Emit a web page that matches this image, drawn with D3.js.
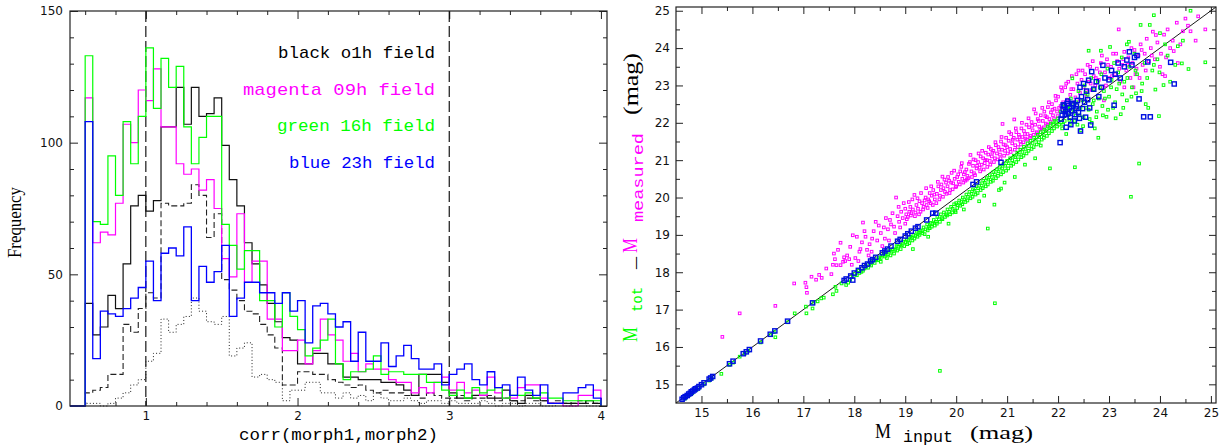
<!DOCTYPE html>
<html><head><meta charset="utf-8">
<script src="https://cdn.jsdelivr.net/npm/d3@7"></script>
<style>body{margin:0;background:#fff}svg{display:block}text{white-space:pre}</style>
</head><body>
<svg id="c" width="1221" height="448"></svg>
<script>
// ---------- LEFT PANEL DATA (histograms, bin width 0.05) ----------
const binLeft = [0.60,0.65,0.70,0.75,0.80,0.85,0.90,0.95,1.00,1.05,1.10,1.15,1.20,1.25,1.30,1.35,1.40,1.45,1.50,1.55,
1.60,1.65,1.70,1.75,1.80,1.85,1.90,1.95,2.00,2.05,2.10,2.15,2.20,2.25,2.30,2.35,2.40,2.45,2.50,2.55,
2.60,2.65,2.70,2.75,2.80,2.85,2.90,2.95,3.00,3.05,3.10,3.15,3.20,3.25,3.30,3.35,3.40,3.45,3.50,3.55,
3.60,3.65,3.70,3.75,3.80,3.85,3.90,3.95];
const binWidth = 0.05;
const blackO1h = [39,27,30,42,37,54,76,80,74,78, 106,106,121,107,121,110,111,117,99,86,
76,62,54,46,39,32,26,25,16,16, 20,20,16,16,11,11,10,10,10,9, 9,8,6,4,12,12,12,9,5,3,
3,4,4,3,3,6,2,1,4,3, 2,1,1,1,1,1,2,1];
const magenta09h = [117,62,66,65,77,107,100,120,116,128, 106,106,92,88,90,82,86,75,56,49,
73,47,55,55,33,33,21,21,25,16, 21,33,27,25,17,20,13,16,14,14, 10,9,9,5,7,5,9,11,6,9,
5,6,4,11,5,3,3,7,8,8, 3,1,1,0,0,4,4,6];
const green16h = [133,70,69,95,80,108,92,110,136,113, 132,121,129,106,92,102,110,110,69,61,
52,59,59,40,40,30,43,34,29,19, 22,25,33,16,10,13,13,14,19,12, 13,13,12,12,12,9,9,6,4,6,
3,7,5,6,7,3,4,4,5,3, 5,3,3,2,2,2,2,2];
const blue23h = [108,18,36,35,34,37,41,45,55,40, 58,60,57,68,40,53,47,51,61,34,
41,47,47,43,43,39,43,36,40,24, 38,39,35,30,32,17,28,17,17,24, 15,19,23,18,14,14,16,8,12,14,
16,10,8,13,7,8,4,11,6,4, 8,1,1,5,5,7,8,3];
const blackDashed = [5,6,7,12,12,31,28,37,43,41, 77,76,76,77,84,80,64,73,48,44,
40,36,35,31,27,22,8,8,13,13, 12,12,10,9,8,7,8,6,5,6, 5,5,4,4,3,5,4,3,3,4,
2,3,3,4,2,3,2,2,3,2, 2,1,2,1,1,2,1,1];
const blackDotted = [1,1,0,1,3,5,8,10,17,20, 33,28,31,34,41,36,32,31,34,19,
22,24,11,12,10,9,2,6,6,9, 9,5,5,3,5,3,4,2,5,3, 2,2,3,2,1,2,2,1,2,1,
1,1,2,1,0,1,1,0,1,1, 0,0,1,0,0,1,0,0];
const leftXMajor = [1,2,3,4];
const leftXMinor = [0.6,0.8,1.2,1.4,1.6,1.8,2.2,2.4,2.6,2.8,3.2,3.4,3.6,3.8];
const leftYMajor = [0,50,100,150];
const leftYMinor = [10,20,30,40,60,70,80,90,110,120,130,140];
const cutLines = [1,3];
const legendLines = ["black o1h field","magenta 09h field","green 16h field","blue 23h field"];

// ---------- RIGHT PANEL DATA (magnitudes) ----------
const rightMajor = [15,16,17,18,19,20,21,22,23,24,25];
const rightMinor = [15.5,16.5,17.5,18.5,19.5,20.5,21.5,22.5,23.5,24.5];
const measuredPts = [[15.41,16.27],[15.75,16.90],[16.45,17.10],[16.82,17.70],[17.04,17.72],[17.07,17.45],[17.06,17.60],[17.16,17.88],[17.25,17.80],[17.31,17.93],[17.36,17.85],[17.60,18.50],[17.62,18.35],[17.65,18.19],[17.58,18.20],[17.73,18.79],[17.73,18.19],[17.78,18.28],[17.80,18.40],[17.82,18.30],[17.86,18.45],[17.90,18.35],[17.97,18.99],[17.95,18.20],[18.02,18.38],[18.10,18.55],[18.17,19.33],[18.12,18.62],[18.15,18.80],[18.22,18.95],[18.25,18.60],[18.30,18.75],[18.34,18.55],[18.38,19.10],[18.45,18.85],[18.48,19.25],[18.52,19.05],[18.58,19.20],[18.60,18.90],[18.66,19.15],[18.70,19.40],[18.72,19.28],[18.78,19.22],[18.82,20.00],[18.85,19.50],[18.88,19.35],[18.92,19.62],[18.95,19.45],[19.00,19.70],[19.02,19.55],[19.05,19.48],[19.08,19.62],[19.10,19.75],[19.12,19.58],[19.15,19.68],[19.18,20.07],[19.20,19.60],[19.22,19.80],[19.25,19.70],[19.28,19.90],[19.30,19.62],[19.33,19.85],[19.36,19.75],[19.40,20.00],[19.42,19.80],[19.45,19.95],[19.48,20.12],[19.50,19.85],[19.52,20.05],[19.55,20.20],[19.58,19.95],[19.62,20.10],[19.65,20.30],[19.68,20.05],[19.70,20.20],[19.73,20.56],[19.75,20.25],[19.78,20.15],[19.80,20.40],[19.83,20.30],[19.86,20.45],[19.88,20.20],[19.91,20.66],[19.94,20.38],[19.97,20.50],[20.00,20.30],[20.02,20.55],[20.05,20.42],[20.08,20.70],[20.10,20.82],[20.12,20.50],[20.15,20.62],[20.18,20.45],[20.20,20.75],[20.22,20.58],[20.25,20.90],[20.28,21.14],[20.30,20.70],[20.33,20.85],[20.35,20.65],[20.38,21.00],[20.40,20.78],[20.43,20.95],[20.46,20.80],[20.48,21.10],[20.50,20.88],[20.53,21.05],[20.56,20.92],[20.58,21.20],[20.60,21.00],[20.63,21.15],[20.66,20.98],[20.68,21.30],[20.70,21.10],[20.73,21.25],[20.76,21.05],[20.78,21.40],[20.80,21.18],[20.83,21.35],[20.86,21.15],[20.88,21.50],[20.91,21.97],[20.90,21.28],[20.93,21.42],[20.96,21.25],[20.98,21.60],[21.00,21.35],[21.03,21.52],[21.06,21.30],[21.08,21.70],[21.10,21.45],[21.14,22.09],[21.13,21.60],[21.16,21.40],[21.18,21.75],[21.20,21.55],[21.23,21.68],[21.26,21.50],[21.28,21.85],[21.30,21.62],[21.33,21.78],[21.36,21.58],[21.38,21.95],[21.40,21.70],[21.43,21.88],[21.46,21.65],[21.48,22.02],[21.50,21.80],[21.53,22.36],[21.55,21.95],[21.58,21.75],[21.60,22.10],[21.63,21.90],[21.66,22.20],[21.68,21.85],[21.70,22.05],[21.73,22.30],[21.76,21.98],[21.78,22.15],[21.80,22.42],[21.83,22.10],[21.86,22.28],[21.88,22.50],[21.90,22.20],[21.93,22.38],[21.96,22.60],[21.98,22.30],
[22.00,22.70],[22.05,22.45],[22.08,22.85],[22.10,22.55],[22.14,22.95],[22.18,22.62],[22.20,23.10],[22.24,22.75],[22.27,23.25],[22.30,22.90],[22.34,22.68],[22.38,23.05],[22.40,23.40],[22.43,22.80],[22.46,23.15],[22.50,22.95],[22.53,23.30],[22.56,22.70],[22.60,23.10],[22.63,23.50],[22.66,22.88],[22.70,23.25],[22.73,23.00],[22.76,23.45],[22.80,23.15],[22.84,23.60],[22.88,22.95],[22.92,23.35],[22.96,23.70],[23.00,23.20],[23.04,23.50],[23.08,23.85],[23.12,23.30],[23.16,23.65],[23.19,24.50],[23.22,23.10],[23.26,23.55],[23.30,23.90],[23.34,23.40],[23.38,23.75],[23.42,23.20],[23.46,23.60],[23.50,23.95],[23.54,23.45],[23.58,23.80],[23.62,24.10],[23.66,23.55],[23.70,23.85],[23.74,24.25],[23.78,23.65],[23.82,24.00],[23.86,24.44],[23.90,23.70],[23.95,24.15],[24.00,23.50],[24.08,24.36],[24.12,23.75],[24.20,24.00],[24.27,23.92],[24.33,24.68],[24.40,24.10],[24.45,24.45],[24.50,24.79],[24.60,24.45],[24.70,24.20],[24.89,24.50],[23.30,22.95],[22.90,22.60],[23.60,23.20],[24.05,23.30],[24.35,23.60]];
const measuredBand = [[17.45,18.10],[17.55,17.95],[17.68,18.60],[17.92,18.68],[18.05,18.95],[18.08,18.30],[18.20,19.10],[18.28,18.45],[18.35,18.90],[18.42,19.35],[18.55,18.70],[18.62,19.45],[18.68,18.85],[18.75,19.58],[18.80,19.05],[18.87,19.75],[18.90,19.20],[18.97,19.85],[19.00,19.30],
[19.03,19.42],[19.07,19.88],[19.11,19.52],[19.14,19.95],[19.19,19.50],[19.24,19.98],[19.27,19.55],[19.31,20.12],[19.35,19.68],[19.38,19.92],[19.41,20.25],[19.44,19.72],[19.47,19.90],[19.51,20.30],[19.54,19.80],[19.57,20.08],[19.61,19.85],[19.64,20.42],[19.67,19.95],[19.71,20.35],[19.74,20.02],[19.77,20.48],[19.81,20.10],[19.84,20.55],[19.87,20.12],[19.90,20.40],[19.93,20.22],[19.96,20.72],[19.99,20.28],[20.04,20.62],[20.07,20.35],[20.11,20.92],[20.14,20.40],[20.17,20.68],[20.21,20.48],[20.24,20.52],[20.27,20.95],[20.31,20.55],[20.34,21.02],[20.37,20.60],[20.41,20.85],[20.44,21.18],[20.47,20.70],[20.51,21.25],[20.54,20.75],[20.57,21.00],[20.61,20.82],[20.64,21.35],[20.67,20.88],[20.71,21.20],[20.74,20.95],[20.77,21.48],[20.81,21.02],[20.84,21.28],[20.87,21.05],[20.89,21.62],[20.94,21.12],[20.97,21.40],[21.01,21.18],[21.04,21.75],[21.07,21.22],[21.11,21.55],[21.15,21.28],[21.17,21.85],[21.21,21.35],[21.24,21.62],[21.27,21.42],[21.29,22.00],[21.32,21.48],[21.35,21.70],[21.39,21.55],[21.42,22.12],[21.45,21.60],[21.49,21.92],[21.52,21.68],[21.56,22.25],[21.59,21.72],[21.62,22.05],[21.65,21.82],[21.69,22.40],[21.72,21.88],[21.75,22.18],[21.79,21.95],[21.82,22.55],[21.85,22.02],[21.89,22.35],[21.92,22.10],[21.95,22.72],[21.99,22.18],
[22.02,22.40],[22.06,22.95],[22.12,22.38],[22.16,23.05],[22.22,22.50],[22.26,22.90],[22.32,22.55],[22.36,23.30],[22.42,22.62],[22.48,23.40],[22.55,22.85],[22.58,23.55],[22.64,23.05],[22.68,23.65],[22.74,23.20],[22.82,23.35],[22.86,23.80],[22.94,23.00],[22.98,23.55],[23.06,23.25],[23.14,23.85],[23.20,23.45],[23.28,23.70],[23.36,23.55],[23.44,24.00],[23.52,23.30],[23.64,23.95],[23.72,23.40],[23.84,23.80],[23.92,24.35],[24.02,23.85],[24.15,24.50],[24.25,24.20],[24.55,24.60],[24.75,24.85],[24.10,23.25],[23.48,22.95]];
const totPts = [[14.68,14.62],[14.75,14.70],[14.82,14.76],[14.90,14.85],[14.95,14.90],[15.05,15.00],[15.15,15.10],[15.20,15.15],[15.39,15.28],[15.55,15.52],[15.62,15.58],[15.75,15.74],[15.85,15.82],[15.92,15.90],[16.16,16.12],[16.35,16.32],[16.45,16.26],[16.42,16.40],[16.70,16.66],[16.83,16.90],[17.05,17.08],[17.06,16.90],[17.18,17.03],[17.20,17.18],[17.28,17.22],[17.35,17.30],[17.40,17.32],[17.58,17.41],[17.63,17.61],[17.65,17.50],[17.75,17.70],[17.84,17.66],[17.88,17.72],[17.92,17.80],[17.97,17.88],[18.00,17.95],[18.05,17.92],[18.08,18.05],[18.10,17.98],[18.14,18.01],[18.17,18.04],[18.20,18.10],[18.23,18.15],[18.27,18.12],[18.30,18.22],[18.33,18.18],[18.36,18.30],[18.40,18.25],[18.43,18.35],[18.46,18.32],[18.49,18.40],[18.52,18.38],[18.56,18.45],[18.60,18.42],[18.63,18.52],[18.66,18.48],[18.70,18.58],[18.73,18.55],[18.76,18.62],[18.80,18.60],[18.83,18.70],[18.86,18.68],[18.90,18.75],[18.93,18.72],[18.96,18.82],[19.00,18.80],[19.03,18.88],[19.06,18.86],[19.10,18.95],[19.13,18.92],[19.16,19.00],[19.20,18.98],[19.23,19.08],[19.26,19.05],[19.30,19.12],[19.33,19.10],[19.36,19.20],[19.40,19.15],[19.43,19.28],[19.46,19.22],[19.50,19.32],[19.53,19.30],[19.56,19.40],[19.60,19.35],[19.63,19.48],[19.66,19.42],[19.70,19.55],[19.73,19.42],[19.76,19.60],[19.80,19.55],[19.83,19.68],[19.86,19.62],[19.90,19.75],[19.93,19.70],[19.96,19.82],[19.99,19.61],[20.00,19.85],[20.03,19.80],[20.06,19.92],[20.10,19.88],[20.13,20.00],[20.16,19.95],[20.20,20.08],[20.23,20.02],[20.26,20.15],[20.30,20.10],[20.33,20.22],[20.36,20.18],[20.40,20.30],[20.43,20.25],[20.46,20.38],[20.50,20.32],[20.53,20.45],[20.56,20.40],[20.60,20.52],[20.62,19.17],[20.63,20.48],[20.66,20.60],[20.70,20.55],[20.73,20.68],[20.75,19.81],[20.76,20.62],[20.76,17.17],[20.80,20.75],[20.84,20.20],[20.83,20.70],[20.86,20.82],[20.88,20.24],[20.90,20.78],[20.93,20.90],[20.96,20.85],[21.00,20.98],[21.03,20.92],[21.06,21.05],[21.10,21.00],[21.13,21.12],[21.16,21.08],[21.20,21.20],[21.23,21.15],[21.26,21.28],[21.30,21.22],[21.33,21.36],[21.36,21.30],[21.40,21.45],[21.43,21.38],[21.46,21.52],[21.50,21.46],[21.53,21.60],[21.56,21.55],[21.60,21.68],[21.63,21.62],[21.66,21.39],[21.66,21.75],[21.70,21.70],[21.73,21.82],[21.76,21.78],[21.80,21.90],[21.84,20.78],[21.83,21.86],[21.86,21.98],[21.90,21.95],[21.93,22.05],[21.96,22.02],[22.00,22.12],[19.68,15.36],
[22.05,22.30],[22.08,21.85],[22.10,22.50],[22.13,22.05],[22.16,21.70],[22.18,22.40],[22.20,22.20],[22.23,21.95],[22.25,22.65],[22.28,23.19],[22.30,22.35],[22.33,20.81],[22.33,22.05],[22.36,22.55],[22.40,22.85],[22.42,22.20],[22.45,21.80],[22.48,22.60],[22.49,21.91],[22.52,23.00],[22.55,22.40],[22.58,22.75],[22.60,23.93],[22.62,22.10],[22.65,23.20],[22.68,22.50],[22.70,22.90],[22.72,21.85],[22.75,22.15],[22.78,23.10],[22.79,21.60],[22.80,22.65],[22.84,23.93],[22.85,23.30],[22.87,22.45],[22.90,22.85],[22.95,22.16],[22.97,23.45],[23.00,22.70],[23.02,24.03],[23.05,23.15],[23.08,22.40],[23.10,23.60],[23.13,22.12],[23.15,22.90],[23.18,23.35],[23.23,22.23],[23.25,23.75],[23.26,22.76],[23.30,23.10],[23.35,22.60],[23.39,24.17],[23.40,23.50],[23.43,20.02],[23.45,22.95],[23.50,23.85],[23.53,22.79],[23.55,23.30],[23.59,20.91],[23.62,24.62],[23.65,23.05],[23.70,23.60],[23.72,22.50],[23.77,22.40],[23.80,24.62],[23.85,23.40],[23.88,24.88],[23.91,22.89],[23.95,23.70],[23.98,22.18],[23.99,23.35],[24.07,23.01],[24.10,24.10],[24.20,23.10],[24.30,23.55],[24.43,23.59],[24.45,24.20],[24.56,23.44],[24.60,25.00],[24.89,23.62],[24.00,24.40],[23.35,24.10]];
const totBand = [[18.52,18.28],[18.58,18.50],[18.64,18.38],[18.71,18.45],[18.78,18.50],[18.84,18.58],[18.91,18.62],[18.98,18.70],[19.04,18.75],[19.08,18.78],[19.14,18.85],[19.18,18.90],[19.24,18.95],[19.28,19.00],[19.34,19.05],[19.38,19.02],[19.44,19.12],[19.48,19.18],[19.52,19.22],[19.58,19.25],[19.62,19.30],[19.68,19.35],[19.72,19.45],[19.78,19.48],[19.82,19.52],[19.88,19.55],[19.92,19.60],[19.98,19.65],[20.02,19.72],[20.08,19.78],[20.12,19.82],[20.18,19.88],[20.22,19.92],[20.28,19.98],[20.32,20.02],[20.38,20.08],[20.42,20.12],[20.48,20.20],[20.52,20.25],[20.58,20.30],[20.62,20.35],[20.68,20.42],[20.72,20.45],[20.78,20.52],[20.82,20.58],[20.88,20.62],[20.92,20.68],[20.98,20.72],[21.02,20.78],[21.08,20.85],[21.12,20.90],[21.18,20.95],[21.22,21.02],[21.28,21.08],[21.32,21.12],[21.38,21.18],[21.42,21.25],[21.48,21.30],[21.52,21.35],[21.58,21.42],[21.62,21.48],[21.68,21.55],[21.72,21.60],[21.78,21.65],[21.82,21.72],[21.88,21.78],[21.92,21.85],[21.98,21.90],[22.02,21.95],[22.06,22.02],
[19.45,18.95],[19.85,19.30],[20.15,19.68],[20.55,20.05],[20.95,20.40],[21.35,20.88],[21.55,21.05],[20.45,19.90],[21.15,20.55],[19.15,18.62],
[22.10,21.95],[22.15,22.30],[22.22,22.08],[22.32,22.50],[22.38,21.95],[22.44,22.40],[22.50,22.15],[22.54,22.80],[22.60,22.35],[22.66,22.00],[22.70,22.60],[22.76,22.30],[22.82,22.95],[22.88,22.20],[22.92,22.65],[22.98,22.35],[23.04,22.95],[23.12,22.55],[23.20,23.05],[23.28,22.40],[23.36,23.20],[23.44,22.70],[23.52,23.40],[23.64,22.85],[23.75,23.20],[23.88,23.55],[24.15,23.80],[24.35,24.05],[22.25,22.40],[22.35,22.20]];
const bluePts = [[14.62,14.60],[14.65,14.64],[14.68,14.67],[14.72,14.70],[14.75,14.74],[14.78,14.76],[14.80,14.80],[14.83,14.82],[14.86,14.85],[14.88,14.88],[14.92,14.90],[14.95,14.94],[15.00,14.99],[15.05,15.04],[15.15,15.14],[15.18,15.17],[15.22,15.21],[15.55,15.55],[15.62,15.62],[15.82,15.82],[15.88,15.87],[15.94,15.93],[16.16,16.16],[16.35,16.34],[16.44,16.43],[16.69,16.69],[17.18,17.18],[17.80,17.78],[17.84,17.82],[17.93,17.90],[17.97,17.79],[18.00,17.98],[18.08,18.05],[18.15,18.12],[18.20,18.18],[18.26,18.22],[18.32,18.30],[18.36,18.34],[18.42,18.40],[18.55,18.52],[18.60,18.57],[18.65,18.62],[18.72,18.70],[18.85,18.83],[18.90,18.88],[19.00,18.97],[19.05,19.03],[19.12,19.10],[19.20,19.18],[19.25,19.22],[19.42,19.40],[19.54,19.58],[19.60,19.58],[20.33,20.35],[20.40,20.42],[20.88,20.94],
[22.04,21.47],[22.08,22.20],[22.10,22.35],[22.12,22.45],[22.15,22.30],[22.18,22.52],[22.20,22.25],[22.22,22.40],[22.25,21.95],[22.27,22.32],[22.30,22.48],[22.33,22.22],[22.35,22.38],[22.38,22.60],[22.40,22.28],[22.43,22.95],[22.46,22.70],[22.50,23.05],[22.52,22.55],[22.56,22.85],[22.60,23.14],[22.62,22.40],[22.64,21.94],[22.66,23.37],[22.70,22.90],[22.75,23.10],[22.80,22.70],[22.85,22.95],[22.88,23.54],[22.92,23.20],[23.00,23.15],[23.05,23.40],[23.10,22.47],[23.12,23.30],[23.18,23.60],[23.22,23.20],[23.30,23.50],[23.35,23.68],[23.40,23.90],[23.45,23.55],[23.50,23.75],[23.55,23.80],[23.59,22.64],[23.68,22.16],[23.76,23.63],[23.81,22.16],[24.21,23.62],[24.28,23.04],
[22.06,22.10],[22.10,22.48],[22.14,22.22],[22.19,22.58],[22.24,22.15],[22.28,22.52],[22.32,22.05],[22.36,22.45],[22.42,22.12],[22.48,22.38],[22.54,22.15],[22.58,22.62],[22.16,21.88],[22.44,21.78]];

// ---------- DRAWING ----------
const svg = d3.select("#c");
const MONO = "'Liberation Mono', monospace", SERIF = "'Liberation Serif', serif", SANS = "'DejaVu Sans', sans-serif";
const COL = {black:"#000", magenta:"#ff00ff", green:"#00ff00", blue:"#0000ff"};

function ticks(g, scale, orient, vals, size, labels, pad){
  const ax = orient(scale).tickValues(vals).tickSize(-size).tickPadding(pad);
  ax.tickFormat(labels ? d3.format("d") : "");
  const a = g.append("g").call(ax);
  a.select(".domain").remove();
  a.selectAll("line").attr("stroke","#222").attr("stroke-width",1);
  a.selectAll("text").attr("font-family",SANS).attr("font-size",12).attr("fill","#111");
  return a;
}

// Left panel
const L = {x0:70, x1:607, y0:11, y1:406};
const xL = d3.scaleLinear().domain([0.5, 4.04]).range([L.x0, L.x1]);
const yL = d3.scaleLinear().domain([0, 150]).range([L.y1, L.y0]);
const gl = svg.append("g");
ticks(gl.append("g").attr("transform",`translate(0,${L.y1})`), xL, d3.axisBottom, leftXMajor, 8, true, 5);
ticks(gl.append("g").attr("transform",`translate(0,${L.y1})`), xL, d3.axisBottom, leftXMinor, 4, false, 0);
ticks(gl.append("g").attr("transform",`translate(0,${L.y0})`), xL, d3.axisTop, leftXMajor, 8, false, 0);
ticks(gl.append("g").attr("transform",`translate(0,${L.y0})`), xL, d3.axisTop, leftXMinor, 4, false, 0);
ticks(gl.append("g").attr("transform",`translate(${L.x0},0)`), yL, d3.axisLeft, leftYMajor, 8, true, 7);
ticks(gl.append("g").attr("transform",`translate(${L.x0},0)`), yL, d3.axisLeft, leftYMinor, 4, false, 0);
ticks(gl.append("g").attr("transform",`translate(${L.x1},0)`), yL, d3.axisRight, leftYMajor, 8, false, 0);
ticks(gl.append("g").attr("transform",`translate(${L.x1},0)`), yL, d3.axisRight, leftYMinor, 4, false, 0);

gl.selectAll("line.cut").data(cutLines).join("line").attr("class","cut")
  .attr("x1",d=>xL(d)).attr("x2",d=>xL(d)).attr("y1",L.y0).attr("y2",L.y1)
  .attr("stroke","#000").attr("stroke-width",1.1).attr("stroke-dasharray","11,4");

const histLine = d3.line().curve(d3.curveStepAfter).x(d=>xL(d[0])).y(d=>yL(d[1]));
function histPts(vals){
  const pts = [[0.5,0]];
  vals.forEach((v,i)=>pts.push([binLeft[i], v]));
  pts.push([binLeft[binLeft.length-1]+binWidth, 0]);
  return pts;
}
const series = [
  {v:blackDotted, c:"#222", dash:"1,2.2", w:1},
  {v:blackDashed, c:"#222", dash:"6,3", w:1.1},
  {v:blackO1h, c:"#111", dash:null, w:1.2},
  {v:magenta09h, c:COL.magenta, dash:null, w:1.2},
  {v:green16h, c:COL.green, dash:null, w:1.2},
  {v:blue23h, c:COL.blue, dash:null, w:1.3}
];
series.forEach(s=>{
  gl.append("path").attr("d", histLine(histPts(s.v))).attr("fill","none")
    .attr("stroke",s.c).attr("stroke-width",s.w).attr("stroke-dasharray",s.dash);
});
gl.append("rect").attr("x",L.x0).attr("y",L.y0).attr("width",L.x1-L.x0).attr("height",L.y1-L.y0)
  .attr("fill","none").attr("stroke","#222").attr("stroke-width",1.2);

const legCols = [COL.black, COL.magenta, COL.green, COL.blue];
const legLen = [157, 192, 158, 146];
const legY = [58, 95, 131, 168];
legendLines.forEach((t,i)=>{
  gl.append("text").attr("x",435).attr("y",legY[i]).attr("text-anchor","end")
    .attr("font-family",MONO).attr("font-size",17).attr("fill",legCols[i])
    .attr("textLength",legLen[i]).attr("lengthAdjust","spacingAndGlyphs").text(t);
});
gl.append("text").attr("x",239).attr("y",440).attr("font-family",MONO).attr("font-size",17)
  .attr("textLength",199).attr("lengthAdjust","spacingAndGlyphs").text("corr(morph1,morph2)");
gl.append("text").attr("transform","translate(21,258) rotate(-90)").attr("font-family",SERIF).attr("font-size",18)
  .attr("textLength",71).attr("lengthAdjust","spacingAndGlyphs").text("Frequency");

// Right panel
const R = {x0:676, x1:1216, y0:7, y1:403};
const xR = d3.scaleLinear().domain([14.5, 25.1]).range([R.x0, R.x1]);
const yR = d3.scaleLinear().domain([14.5, 25.1]).range([R.y1, R.y0]);
const gr = svg.append("g");
ticks(gr.append("g").attr("transform",`translate(0,${R.y1})`), xR, d3.axisBottom, rightMajor, 7, true, 5);
ticks(gr.append("g").attr("transform",`translate(0,${R.y1})`), xR, d3.axisBottom, rightMinor, 4, false, 0);
ticks(gr.append("g").attr("transform",`translate(0,${R.y0})`), xR, d3.axisTop, rightMajor, 7, false, 0);
ticks(gr.append("g").attr("transform",`translate(0,${R.y0})`), xR, d3.axisTop, rightMinor, 4, false, 0);
ticks(gr.append("g").attr("transform",`translate(${R.x0},0)`), yR, d3.axisLeft, rightMajor, 7, true, 6);
ticks(gr.append("g").attr("transform",`translate(${R.x0},0)`), yR, d3.axisLeft, rightMinor, 4, false, 0);
ticks(gr.append("g").attr("transform",`translate(${R.x1},0)`), yR, d3.axisRight, rightMajor, 7, false, 0);
ticks(gr.append("g").attr("transform",`translate(${R.x1},0)`), yR, d3.axisRight, rightMinor, 4, false, 0);

gr.append("line").attr("x1",xR(14.5)).attr("y1",yR(14.5)).attr("x2",xR(25.1)).attr("y2",yR(25.1))
  .attr("stroke","#000").attr("stroke-width",0.9);

function squares(pts, col, s, w){
  gr.append("g").selectAll("rect").data(pts).join("rect")
    .attr("x",d=>xR(d[0])-s/2).attr("y",d=>yR(d[1])-s/2).attr("width",s).attr("height",s)
    .attr("fill","none").attr("stroke",col).attr("stroke-width",w);
}
squares(measuredPts.concat(measuredBand), COL.magenta, 2.6, 1);
squares(totPts.concat(totBand), COL.green, 2.6, 1);
squares(bluePts, "#0010e0", 4.2, 1.4);

gr.append("rect").attr("x",R.x0).attr("y",R.y0).attr("width",R.x1-R.x0).attr("height",R.y1-R.y0)
  .attr("fill","none").attr("stroke","#222").attr("stroke-width",1.2);

// x label  M_input (mag)
gr.append("text").attr("x",875).attr("y",438).attr("font-family",SERIF).attr("font-size",20)
  .attr("textLength",16).attr("lengthAdjust","spacingAndGlyphs").text("M");
gr.append("text").attr("x",903).attr("y",442).attr("font-family",MONO).attr("font-size",16)
  .attr("textLength",50).attr("lengthAdjust","spacingAndGlyphs").text("input");
gr.append("text").attr("x",970).attr("y",439).attr("font-family",SERIF).attr("font-size",19)
  .attr("textLength",63).attr("lengthAdjust","spacingAndGlyphs").text("(mag)");
// y label  M_tot | M_measured (mag)
const yl = [
  {t:"M", x:637, y:342, f:SERIF, s:21, len:15, c:COL.green},
  {t:"tot", x:642, y:312, f:MONO, s:15, len:25, c:COL.green},
  {t:"–", x:641, y:269, f:SERIF, s:18, len:12, c:"#000"},
  {t:"M", x:637, y:253, f:SERIF, s:21, len:15, c:COL.magenta},
  {t:"measured", x:643, y:222, f:MONO, s:15, len:89, c:COL.magenta},
  {t:"(mag)", x:638, y:115, f:SERIF, s:21, len:62, c:"#000"}
];
yl.forEach(d=>{
  gr.append("text").attr("transform",`translate(${d.x},${d.y}) rotate(-90)`)
    .attr("font-family",d.f).attr("font-size",d.s).attr("fill",d.c)
    .attr("textLength",d.len).attr("lengthAdjust","spacingAndGlyphs").text(d.t);
});
</script>
</body></html>
